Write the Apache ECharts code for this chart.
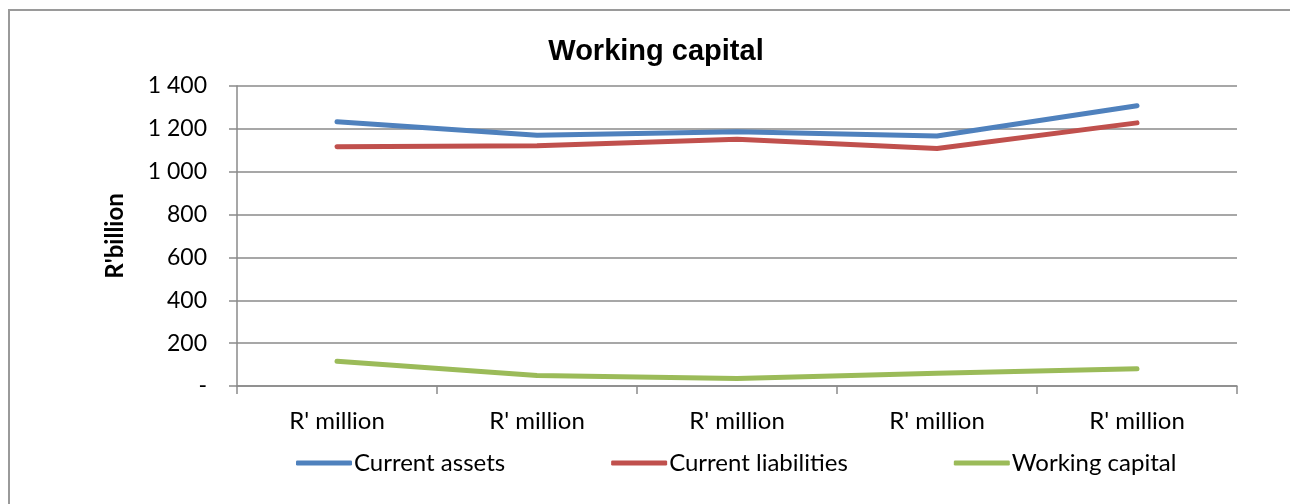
<!DOCTYPE html>
<html>
<head>
<meta charset="utf-8">
<script src="https://cdn.jsdelivr.net/npm/echarts@6/dist/echarts.min.js"></script>
<style>
  html, body { margin: 0; padding: 0; background: #fff; }
  #chart { width: 1290px; height: 504px; }
</style>
</head>
<body>
<div id="chart"></div>
<script>
// Category labels along the bottom axis
const categories = ["R' million", "R' million", "R' million", "R' million", "R' million"];

// Series values (R'billion)
const currentAssets      = [1233, 1170, 1186, 1167, 1308];
const currentLiabilities = [1117, 1121, 1151, 1108, 1228];
const workingCapital     = [116, 49, 35, 59, 80];

// Value axis range and ticks
const yMin = 0;
const yMax = 1400;
const yStep = 200;

const FONT = 'Lato, "Open Sans", sans-serif';
const TITLE_FONT = '"Liberation Sans", Arial, sans-serif';
const GRID_GREY = '#8a8a8a';

function fmtTick(v) {
  if (v === 0) return '-';
  return String(v).replace(/\B(?=(\d{3})+(?!\d))/g, ' ');
}

function lineSeries(name, data, color) {
  return {
    name: name,
    type: 'line',
    data: data,
    symbol: 'none',
    smooth: false,
    lineStyle: { color: color, width: 5, cap: 'round', join: 'round' },
    itemStyle: { color: color },
    emphasis: { disabled: true }
  };
}

const chart = echarts.init(document.getElementById('chart'), null, { renderer: 'canvas' });

chart.setOption({
  animation: false,
  backgroundColor: '#fff',
  title: {
    text: 'Working capital',
    left: 651,
    top: 32,
    textAlign: 'center',
    textStyle: { fontFamily: TITLE_FONT, fontSize: 29, fontWeight: 'bold', color: '#000' }
  },
  legend: {
    top: 446,
    left: 291,
    itemGap: 106,
    itemWidth: 56,
    itemHeight: 5,
    icon: 'roundRect',
    textStyle: { fontFamily: FONT, fontSize: 24, color: '#000', padding: [0, 0, 0, -3] },
    data: ['Current assets', 'Current liabilities', 'Working capital']
  },
  grid: { left: 237, right: 53, top: 86, bottom: 118 },
  xAxis: {
    type: 'category',
    data: categories,
    boundaryGap: true,
    axisLine: { lineStyle: { color: GRID_GREY, width: 1.5 } },
    axisTick: { show: true, length: 8, alignWithLabel: false, lineStyle: { color: GRID_GREY, width: 1.5 } },
    axisLabel: { margin: 23, fontFamily: FONT, fontSize: 24, color: '#000' }
  },
  yAxis: {
    type: 'value',
    min: yMin,
    max: yMax,
    interval: yStep,
    name: "R'billion",
    nameLocation: 'middle',
    nameGap: 110,
    nameRotate: 90,
    nameTextStyle: { fontFamily: FONT, fontSize: 24, fontWeight: 'bold', color: '#000' },
    axisLine: { show: true, lineStyle: { color: GRID_GREY, width: 1.5 } },
    axisTick: { show: true, length: 8, lineStyle: { color: GRID_GREY, width: 1.5 } },
    axisLabel: { margin: 30, fontFamily: FONT, fontSize: 23, color: '#000', formatter: fmtTick },
    splitLine: { show: true, lineStyle: { color: GRID_GREY, width: 1.5 } }
  },
  graphic: [{
    type: 'rect',
    shape: { x: 9, y: 10, width: 1400, height: 600 },
    style: { fill: 'none', stroke: '#9a9a9a', lineWidth: 2 },
    silent: true,
    z: -1
  }],
  series: [
    lineSeries('Current assets', currentAssets, '#4F81BD'),
    lineSeries('Current liabilities', currentLiabilities, '#C0504D'),
    lineSeries('Working capital', workingCapital, '#9BBB59')
  ]
});
</script>
</body>
</html>
